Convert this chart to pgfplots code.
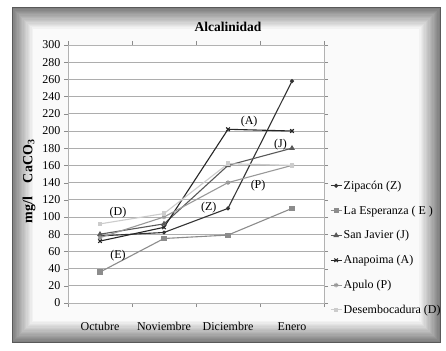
\documentclass[border=0pt]{standalone}
\usepackage{fontspec}
\setmainfont{Liberation Serif}
\usepackage{pgfplots}
\pgfplotsset{compat=1.18}

\begin{document}
\begin{tikzpicture}[x=1pt,y=1pt]
\useasboundingbox (0,0) rectangle (446,350);
% bevelled chart area: nested rectangles from dark edge to light centre
\foreach \i in {0,...,16}{
  \pgfmathtruncatemacro\g{50-3*\i}
  \fill[black!\g] ({12+1.3*\i},{8+1.3*\i}) rectangle ({440-1.3*\i},{342-1.3*\i});
}
\draw[black!65, line width=1pt] (12,8) rectangle (440,342);

% title and vertical axis label
\node[font=\fontsize{13.5}{15}\selectfont\bfseries] at (228,323) {Alcalinidad};
\node[font=\fontsize{14}{16}\selectfont\bfseries, rotate=90] at (29,168.5) {mg/l\hspace{14pt}CaCO\textsubscript{3}};

\begin{axis}[
  at={(68pt,47pt)}, anchor=south west, scale only axis,
  width=256pt, height=258pt,
  xmin=-0.5, xmax=3.5, ymin=0, ymax=300,
  xtick={0,1,2,3}, xticklabels={Octubre,Noviembre,Diciembre,Enero},
  minor xtick={-0.5,0.5,1.5,2.5,3.5},
  major x tick style={draw=none},
  minor x tick style={draw=black!45},
  ytick distance=20,
  y tick style={draw=black!45},
  tick align=outside, major tick length=4pt, minor tick length=4pt,
  ymajorgrids, grid style={black!32, line width=0.9pt},
  axis background/.style={fill=white},
  axis line style={black!30},
  ticklabel style={font=\fontsize{12}{14}\selectfont},
  /pgf/number format/assume math mode=true,
  xticklabel style={yshift=-12pt},
  legend style={at={(axis description cs:1.023,0.48)}, anchor=north west,
    draw=none, fill=none, font=\fontsize{12}{14}\selectfont,
    row sep=12pt, inner sep=0pt, nodes={inner sep=1.5pt}},
  legend cell align=left,
  legend image code/.code={\draw[mark repeat=2,mark phase=2]
    plot coordinates {(0pt,0pt) (5.5pt,0pt) (11pt,0pt)};},
  every axis plot/.append style={line width=1.1pt},
]
\addplot[black!80, mark=*, mark size=1.4pt] coordinates {(0,78)(1,82)(2,110)(3,258)};
\addlegendentry{Zipacón (Z)}
\addplot[black!45, mark=square*, mark size=2pt] coordinates {(0,36)(1,75)(2,79)(3,110)};
\addlegendentry{La Esperanza ( E )}
\addplot[black!65, mark=triangle*, mark size=2.2pt] coordinates {(0,80)(1,92)(2,160)(3,180)};
\addlegendentry{San Javier (J)}
\addplot[black!85, mark=x, mark size=2.5pt] coordinates {(0,72)(1,88)(2,202)(3,200)};
\addlegendentry{Anapoima (A)}
\addplot[black!40, mark=asterisk, mark size=2.2pt] coordinates {(0,76)(1,100)(2,140)(3,160)};
\addlegendentry{Apulo (P)}
\addplot[black!20, mark=square*, mark size=1.8pt] coordinates {(0,92)(1,104)(2,162)(3,160)};
\addlegendentry{Desembocadura (D)}

% station tags
\begin{scope}[every node/.style={font=\fontsize{12}{14}\selectfont, fill=none, inner sep=0pt}]
\node at (axis cs:2.33,211) {(A)};
\node at (axis cs:2.82,184) {(J)};
\node at (axis cs:2.47,137) {(P)};
\node at (axis cs:1.70,111) {(Z)};
\node at (axis cs:0.28,105) {(D)};
\node at (axis cs:0.28,55) {(E)};
\end{scope}
\end{axis}
\end{tikzpicture}
\end{document}
